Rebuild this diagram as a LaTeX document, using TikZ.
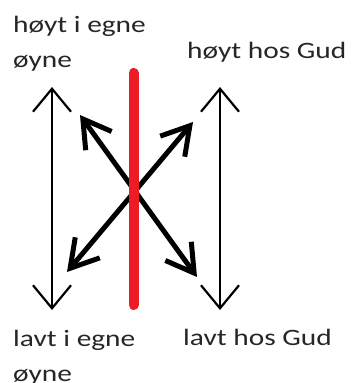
\documentclass[tikz,border=0pt]{standalone}
\usepackage{fontspec}
\setmainfont{Carlito}[FakeStretch=1.25]
\usetikzlibrary{arrows.meta}
\definecolor{paintred}{RGB}{237,28,36}
\tikzset{
  lbl/.style={inner sep=0pt, anchor=base west, align=left, font=\fontsize{23.5}{35}\selectfont, text=black!85},
  thinarrow/.style={line width=2.2pt, {Straight Barb[length=23pt,width=38pt]}-{Straight Barb[length=23pt,width=38pt]}},
  thickarrow/.style={line width=5pt, line cap=round, line join=round, {Straight Barb[length=27pt,width=32pt]}-{Straight Barb[length=27pt,width=32pt]}},
  redbar/.style={line width=10pt, line cap=round, draw=paintred}
}
\begin{document}
\begin{tikzpicture}[x=1pt,y=-1pt]
\useasboundingbox (0,0) rectangle (351,383);
\node[lbl] (hl) at (13,67) {høyt i egne\\øyne};
\node[lbl] (hr) at (187,58) {høyt hos Gud};
\node[lbl] (ll) at (13,381) {lavt i egne\\øyne};
\node[lbl] (lr) at (183,345) {lavt hos Gud};
\coordinate (LT) at (52,87);
\coordinate (LB) at (52,310);
\coordinate (RT) at (220,87);
\coordinate (RB) at (220,310);
\coordinate (A1) at (80,115);
\coordinate (A2) at (197,277);
\coordinate (B1) at (67,272);
\coordinate (B2) at (193,122);
\coordinate (R1) at (133.5,73);
\coordinate (R2) at (133.5,305);
\draw[thinarrow] (LT) -- (LB);
\draw[thinarrow] (RT) -- (RB);
\draw[thickarrow] (A1) -- (A2);
\draw[thickarrow] (B1) -- (B2);
\draw[redbar] (R1) -- (R2);
\end{tikzpicture}
\end{document}
